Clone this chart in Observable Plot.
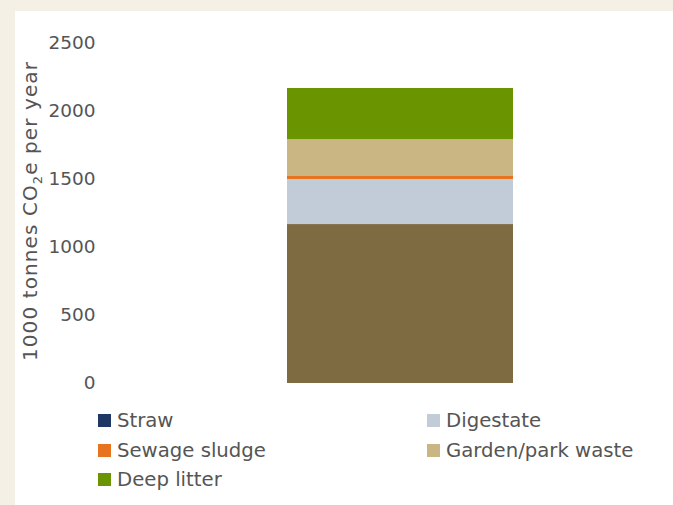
<!DOCTYPE html>
<html><head><meta charset="utf-8">
<script src="https://cdn.jsdelivr.net/npm/d3@7"></script>
<script src="https://cdn.jsdelivr.net/npm/@observablehq/plot@0.6"></script>
<style>
html,body{margin:0;padding:0;background:#f4f0e6;width:673px;height:505px;overflow:hidden;font-family:"DejaVu Sans",sans-serif;}
#panel{position:absolute;left:15px;top:11px;width:658px;height:494px;background:#fff;}
#chart{position:absolute;left:0;top:0;}
.leg{position:absolute;font-size:19.7px;color:#555;line-height:1;white-space:nowrap;}
.sw{position:absolute;width:13px;height:13px;}
</style></head><body>
<div id="panel"></div>
<div id="chart"></div>
<div id="legend"></div>
<script>
// stacked from the bottom up
const categories = ["Other", "Digestate", "Sewage sludge", "Garden/park waste", "Deep litter", "Straw"];
const values = [1167, 331, 22, 271, 375, 0];
const colors = ["#7e6b41", "#c2ccd8", "#e8731e", "#cab683", "#6a9500", "#1e3764"];
const yTicks = [0, 500, 1000, 1500, 2000, 2500];
const legendItems = ["Straw", "Digestate", "Sewage sludge", "Garden/park waste", "Deep litter"];

const data = categories.map((c, i) => ({group: "Total", series: c, value: values[i]}));

const chart = Plot.plot({
  width: 673, height: 400,
  marginLeft: 98, marginTop: 0, marginBottom: 0, marginRight: 0,
  style: {background: "transparent", fontFamily: "'DejaVu Sans', sans-serif", fontSize: "18.5px", color: "#555", overflow: "visible"},
  x: {type: "band", domain: ["Total"], range: [287, 513], padding: 0, axis: null},
  y: {domain: [0, 2500], range: [383, 42.5], label: null},
  color: {domain: categories, range: colors},
  marks: [
    Plot.barY(data, {x: "group", y: "value", fill: "series", order: categories}),
    Plot.axisY({ticks: yTicks, tickFormat: d => String(d), tickSize: 0, tickPadding: 3, label: null, fontSize: 18.5, fill: "#555"})
  ]
});
document.getElementById("chart").appendChild(chart);

// rotated y-axis title with subscript
const svg = d3.select(chart);
const t = svg.append("text")
  .attr("transform", "translate(37,211) rotate(-90)")
  .attr("text-anchor", "middle")
  .attr("font-size", 20)
  .attr("letter-spacing", 1.1)
  .attr("fill", "#555");
t.append("tspan").text("1000 tonnes CO");
t.append("tspan").attr("font-size", 13).attr("dy", 5).text("2");
t.append("tspan").attr("dy", -5).text("e per year");

// legend (two columns)
const leg = document.getElementById("legend");
const colX = [98, 427], rowY = [420, 450, 479];
legendItems.forEach((name, i) => {
  const col = i % 2, row = Math.floor(i / 2);
  const sw = document.createElement("div");
  sw.className = "sw";
  sw.style.left = colX[col] + "px";
  sw.style.top = (rowY[row] - 6.5) + "px";
  sw.style.background = colors[categories.indexOf(name)];
  leg.appendChild(sw);
  const lab = document.createElement("div");
  lab.className = "leg";
  lab.textContent = name;
  lab.style.left = (colX[col] + 19) + "px";
  lab.style.top = (rowY[row] - 9) + "px";
  leg.appendChild(lab);
});
</script>
</body></html>
